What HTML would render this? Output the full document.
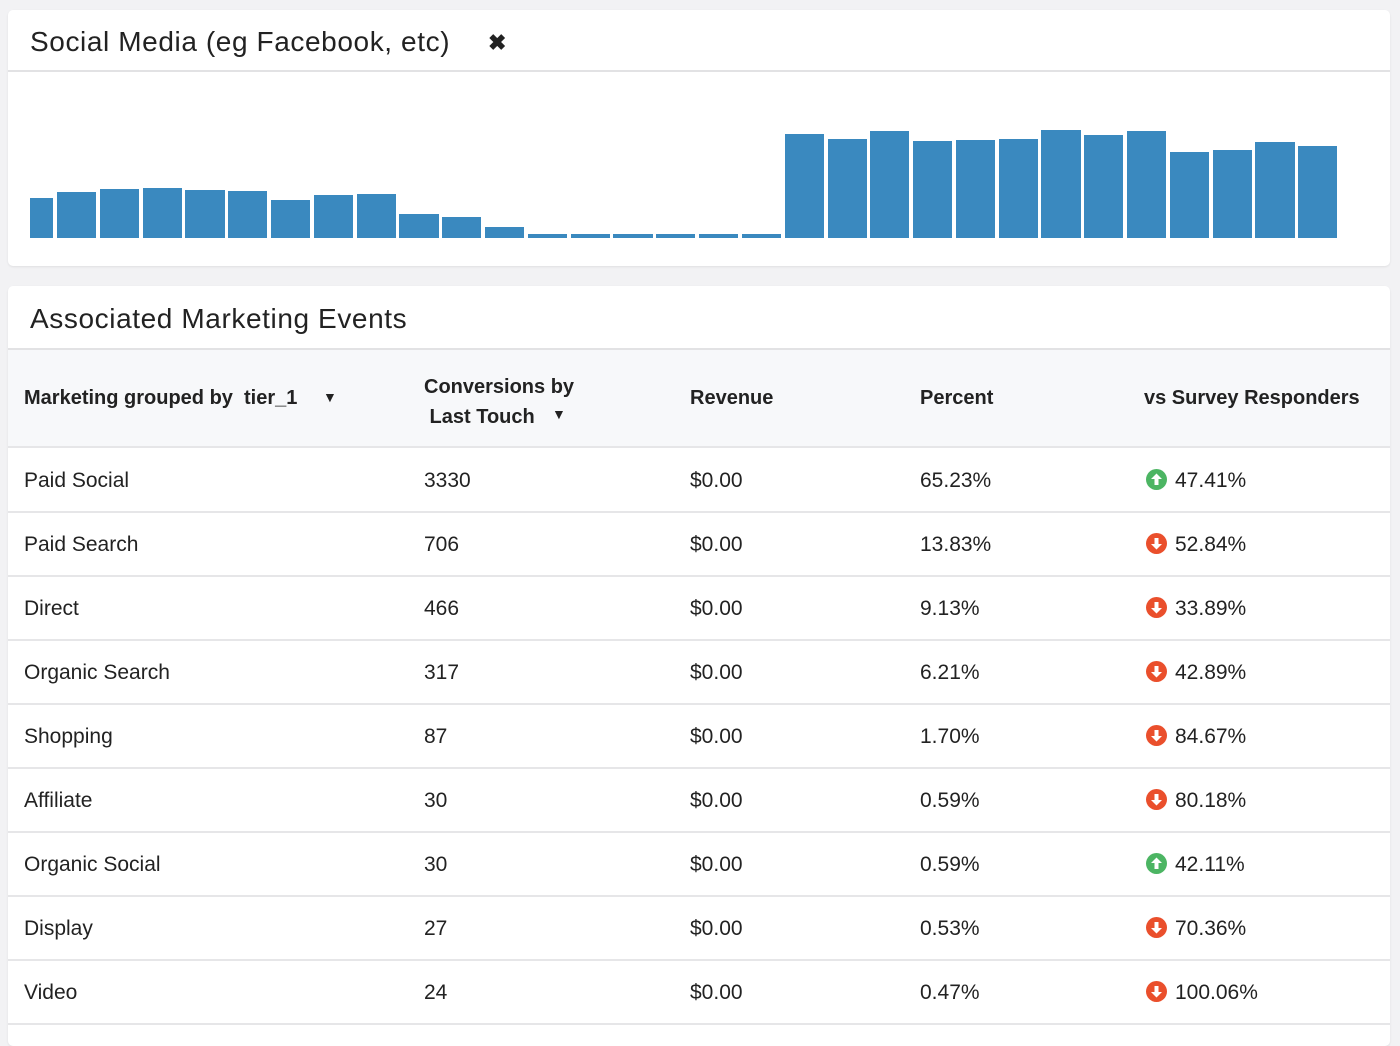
<!DOCTYPE html>
<html><head><meta charset="utf-8"><style>
body{margin:0;width:1400px;height:1032px;background:#f2f2f4;font-family:"Liberation Sans",sans-serif;color:#222;overflow:hidden;position:relative}
.card{position:absolute;left:8px;width:1382px;background:#fff;border-radius:5px;box-shadow:0 1px 2px rgba(0,0,0,.08)}
.t{position:absolute;left:22px;font-size:28px;color:#222;letter-spacing:0.6px}
.hl{position:absolute;left:0;right:0;height:2px;background:#e2e2e4}
.bar{position:absolute;background:#3a89bf;bottom:0}
.row{position:absolute;left:0;right:0;height:63px;border-bottom:2px solid #e6e6e8;font-size:21px}
.row span,.th span{position:absolute}
.th{position:absolute;left:0;right:0;top:64px;height:96px;background:#f7f8fa;border-bottom:2px solid #e6e6e8;font-size:20px;font-weight:bold}
.ic{display:inline-block;width:21px;height:21px;border-radius:50%;vertical-align:-3px;margin-right:8px;position:relative}
.ic svg{position:absolute;left:0;top:0}
</style></head><body>
<div class="card" style="top:10px;height:256px">
<div class="t" style="top:16px">Social Media (eg Facebook, etc)</div>
<div style="position:absolute;left:480px;top:20px;font-size:22px;font-weight:bold">✖</div>
<div class="hl" style="top:60px"></div>
<div id="ch" style="position:absolute;left:0;top:62px;width:1382px;height:166px"></div>
</div>
<div class="card" style="top:286px;height:760px">
<div class="t" style="top:17px">Associated Marketing Events</div>
<div class="hl" style="top:62px"></div>
<div class="th">
<span style="left:16px;top:37px">Marketing grouped by &nbsp;tier_1</span>
<span style="left:315px;top:39px;font-size:14px">▼</span>
<span style="left:416px;top:22px;line-height:30px">Conversions by<br>&nbsp;Last Touch</span>
<span style="left:544px;top:56px;font-size:14px">▼</span>
<span style="left:682px;top:37px">Revenue</span>
<span style="left:912px;top:37px">Percent</span>
<span style="left:1136px;top:37px">vs Survey Responders</span>
</div>
<div id="rows"></div>
</div>
<script>
var xs=[[30,53],[57,96],[100,139],[143,182],[185,225],[228,267],[271,310],[314,353],[357,396],[399,439],[442,481],[485,524],[528,567],[571,610],[613,653],[656,695],[699,738],[742,781],[785,824],[828,867],[870,909],[913,952],[956,995],[999,1038],[1041,1081],[1084,1123],[1127,1166],[1170,1209],[1213,1252],[1255,1295],[1298,1337]];
var tops=[198,192,189,188,190,191,200,195,194,214,217,227,234,234,234,234,234,234,134,139,131,141,140,139,130,135,131,152,150,142,146];
var h='';xs.forEach(function(x,i){h+='<div class="bar" style="left:'+(x[0]-8)+'px;width:'+(x[1]-x[0])+'px;height:'+(238-tops[i])+'px"></div>'});
document.getElementById('ch').innerHTML=h;
var d=[["Paid Social","3330","65.23%",1,"47.41%"],["Paid Search","706","13.83%",0,"52.84%"],["Direct","466","9.13%",0,"33.89%"],["Organic Search","317","6.21%",0,"42.89%"],["Shopping","87","1.70%",0,"84.67%"],["Affiliate","30","0.59%",0,"80.18%"],["Organic Social","30","0.59%",1,"42.11%"],["Display","27","0.53%",0,"70.36%"],["Video","24","0.47%",0,"100.06%"]];
var r='';d.forEach(function(a,i){var up=a[3];var c=up?'#4cb563':'#ea4f2c';
var arr=up?'<path d="M10.5 4.5 L16 10 L12.5 10 L12.5 16 L8.5 16 L8.5 10 L5 10Z" fill="#fff"/>':'<path d="M10.5 16.5 L16 11 L12.5 11 L12.5 5 L8.5 5 L8.5 11 L5 11Z" fill="#fff"/>';
r+='<div class="row" style="top:'+(162+i*64)+'px"><span style="left:16px;top:21px">'+a[0]+'</span><span style="left:416px;top:21px">'+a[1]+'</span><span style="left:682px;top:21px">$0.00</span><span style="left:912px;top:21px">'+a[2]+'</span><span style="left:1138px;top:21px"><span class="ic" style="position:relative;background:'+c+'"><svg width="21" height="21">'+arr+'</svg></span>'+a[4]+'</span></div>'});
document.getElementById('rows').innerHTML=r;
</script>
</body></html>
